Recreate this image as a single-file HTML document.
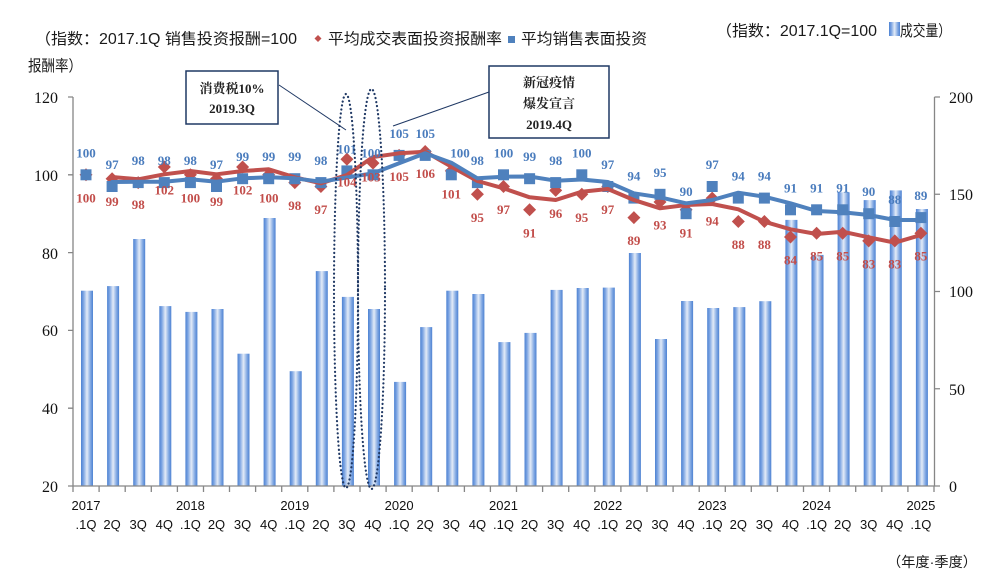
<!DOCTYPE html>
<html><head><meta charset="utf-8"><style>
html,body{margin:0;padding:0;background:#fff;}
svg{display:block;}
.lg{font-family:"Liberation Sans","Noto Sans CJK SC",sans-serif;font-size:15.5px;fill:#1a1a1a;}
.ax{font-family:"Liberation Serif",serif;font-size:16px;fill:#111;}
.xl{font-family:"Liberation Sans",sans-serif;font-size:13px;fill:#111;}
.bl{font-family:"Liberation Serif",serif;font-weight:bold;font-size:13px;fill:#4a7cbd;text-anchor:middle;}
.rl{font-family:"Liberation Serif",serif;font-weight:bold;font-size:13px;fill:#c24d4a;text-anchor:middle;}
.bx{font-family:"Liberation Serif","Noto Serif CJK SC",serif;font-weight:bold;font-size:13px;fill:#222;text-anchor:middle;}
</style></head><body>
<svg width="1006" height="580" viewBox="0 0 1006 580" xmlns="http://www.w3.org/2000/svg">
<defs>
<linearGradient id="bg" x1="0" y1="0" x2="1" y2="0">
<stop offset="0" stop-color="#4d82d2"/>
<stop offset="0.2" stop-color="#7aa3e2"/>
<stop offset="0.5" stop-color="#e3ebf7"/>
<stop offset="0.8" stop-color="#7ea6e2"/>
<stop offset="1" stop-color="#4d82d2"/>
</linearGradient>
<path id="dm" d="M0,-6.5L6.5,0L0,6.5L-6.5,0Z" fill="#c0504d"/>
<rect id="sq" x="-5.5" y="-5.5" width="11" height="11" fill="#4f81bd"/>
</defs>

<!-- legends -->
<text class="lg" x="35" y="44" textLength="262" lengthAdjust="spacingAndGlyphs">（指数：2017.1Q 销售投资报酬=100</text>
<path d="M318,35L321.5,38.5L318,42L314.5,38.5Z" fill="#c0504d"/>
<text class="lg" x="328" y="44" textLength="174" lengthAdjust="spacingAndGlyphs">平均成交表面投资报酬率</text>
<rect x="508" y="36" width="7" height="7" fill="#4f81bd"/>
<text class="lg" x="521" y="44" textLength="126" lengthAdjust="spacingAndGlyphs">平均销售表面投资</text>
<text class="lg" x="28" y="71" textLength="54" lengthAdjust="spacingAndGlyphs">报酬率）</text>
<text class="lg" x="716" y="36" textLength="161" lengthAdjust="spacingAndGlyphs">（指数：2017.1Q=100</text>
<rect x="889" y="22" width="11" height="14" fill="url(#bg)"/>
<text class="lg" x="900" y="36" textLength="51" lengthAdjust="spacingAndGlyphs">成交量）</text>
<text class="lg" x="887" y="567" textLength="90" lengthAdjust="spacingAndGlyphs" style="font-size:14px">（年度·季度）</text>

<!-- bars -->
<g fill="url(#bg)">
<rect x="81.0" y="290.7" width="12" height="195.3"/>
<rect x="107.1" y="286.1" width="12" height="199.9"/>
<rect x="133.2" y="239.0" width="12" height="247.0"/>
<rect x="159.3" y="306.1" width="12" height="179.9"/>
<rect x="185.4" y="311.9" width="12" height="174.1"/>
<rect x="211.5" y="309.0" width="12" height="177.0"/>
<rect x="237.5" y="353.7" width="12" height="132.3"/>
<rect x="263.6" y="218.0" width="12" height="268.0"/>
<rect x="289.7" y="371.2" width="12" height="114.8"/>
<rect x="315.8" y="271.1" width="12" height="214.9"/>
<rect x="341.9" y="296.9" width="12" height="189.1"/>
<rect x="368.0" y="309.0" width="12" height="177.0"/>
<rect x="394.1" y="381.9" width="12" height="104.1"/>
<rect x="420.2" y="327.1" width="12" height="158.9"/>
<rect x="446.3" y="290.7" width="12" height="195.3"/>
<rect x="472.4" y="294.0" width="12" height="192.0"/>
<rect x="498.4" y="342.1" width="12" height="143.9"/>
<rect x="524.5" y="332.9" width="12" height="153.1"/>
<rect x="550.6" y="289.9" width="12" height="196.1"/>
<rect x="576.7" y="288.0" width="12" height="198.0"/>
<rect x="602.8" y="287.6" width="12" height="198.4"/>
<rect x="628.9" y="253.0" width="12" height="233.0"/>
<rect x="655.0" y="339.0" width="12" height="147.0"/>
<rect x="681.1" y="301.0" width="12" height="185.0"/>
<rect x="707.2" y="308.0" width="12" height="178.0"/>
<rect x="733.3" y="307.1" width="12" height="178.9"/>
<rect x="759.3" y="301.2" width="12" height="184.8"/>
<rect x="785.4" y="219.9" width="12" height="266.1"/>
<rect x="811.5" y="254.9" width="12" height="231.1"/>
<rect x="837.6" y="192.3" width="12" height="293.7"/>
<rect x="863.7" y="200.1" width="12" height="285.9"/>
<rect x="889.8" y="190.4" width="12" height="295.6"/>
<rect x="915.9" y="209.0" width="12" height="277.0"/>
</g>

<!-- axes -->
<g stroke="#868686" stroke-width="1.3" fill="none">
<line x1="73" y1="97" x2="73" y2="486"/>
<line x1="934.5" y1="97" x2="934.5" y2="486"/>
<line x1="73" y1="486" x2="934.5" y2="486"/>
<path d="M68,97H73M68,174.8H73M68,252.6H73M68,330.4H73M68,408.2H73M68,486H73"/>
<path d="M934.5,97H940M934.5,194.25H940M934.5,291.5H940M934.5,388.75H940M934.5,486H940"/>
<path d="M73,486V492M99.1,486V492M125.2,486V492M151.3,486V492M177.4,486V492M203.5,486V492M229.5,486V492M255.6,486V492M281.7,486V492M307.8,486V492M333.9,486V492M360,486V492M386.1,486V492M412.2,486V492M438.3,486V492M464.4,486V492M490.4,486V492M516.5,486V492M542.6,486V492M568.7,486V492M594.8,486V492M620.9,486V492M647,486V492M673.1,486V492M699.2,486V492M725.3,486V492M751.3,486V492M777.4,486V492M803.5,486V492M829.6,486V492M855.7,486V492M881.8,486V492M907.9,486V492M934,486V492"/>
</g>
<g class="ax" text-anchor="end">
<text x="58" y="103">120</text><text x="58" y="181">100</text><text x="58" y="259">80</text>
<text x="58" y="336">60</text><text x="58" y="414">40</text><text x="58" y="492">20</text>
</g>
<g class="ax">
<text x="949" y="103">200</text><text x="949" y="200">150</text><text x="949" y="297">100</text>
<text x="949" y="395">50</text><text x="949" y="492">0</text>
</g>
<g class="xl" text-anchor="middle">
<text x="86" y="510">2017</text><text x="190.4" y="510">2018</text><text x="294.8" y="510">2019</text>
<text x="399.1" y="510">2020</text><text x="503.5" y="510">2021</text><text x="607.8" y="510">2022</text>
<text x="712.2" y="510">2023</text><text x="816.6" y="510">2024</text><text x="920.9" y="510">2025</text>
<text x="86" y="529">.1Q</text><text x="112.1" y="529">2Q</text><text x="138.2" y="529">3Q</text><text x="164.3" y="529">4Q</text>
<text x="190.4" y="529">.1Q</text><text x="216.5" y="529">2Q</text><text x="242.6" y="529">3Q</text><text x="268.7" y="529">4Q</text>
<text x="294.8" y="529">.1Q</text><text x="320.9" y="529">2Q</text><text x="346.9" y="529">3Q</text><text x="373" y="529">4Q</text>
<text x="399.1" y="529">.1Q</text><text x="425.2" y="529">2Q</text><text x="451.3" y="529">3Q</text><text x="477.4" y="529">4Q</text>
<text x="503.5" y="529">.1Q</text><text x="529.6" y="529">2Q</text><text x="555.7" y="529">3Q</text><text x="581.8" y="529">4Q</text>
<text x="607.8" y="529">.1Q</text><text x="633.9" y="529">2Q</text><text x="660" y="529">3Q</text><text x="686.1" y="529">4Q</text>
<text x="712.2" y="529">.1Q</text><text x="738.3" y="529">2Q</text><text x="764.4" y="529">3Q</text><text x="790.5" y="529">4Q</text>
<text x="816.6" y="529">.1Q</text><text x="842.7" y="529">2Q</text><text x="868.7" y="529">3Q</text><text x="894.8" y="529">4Q</text>
<text x="920.9" y="529">.1Q</text>
</g>

<!-- red markers -->
<g>
<use href="#dm" x="86" y="174.8"/><use href="#dm" x="112.1" y="178.7"/><use href="#dm" x="138.2" y="182.6"/><use href="#dm" x="164.3" y="167"/>
<use href="#dm" x="190.4" y="174.8"/><use href="#dm" x="216.5" y="178.7"/><use href="#dm" x="242.6" y="167"/><use href="#dm" x="268.7" y="174.8"/>
<use href="#dm" x="294.8" y="182.6"/><use href="#dm" x="320.9" y="186.5"/><use href="#dm" x="346.9" y="159.2"/><use href="#dm" x="373" y="163.1"/>
<use href="#dm" x="399.1" y="155.4"/><use href="#dm" x="425.2" y="151.5"/><use href="#dm" x="451.3" y="170.9"/><use href="#dm" x="477.4" y="194.3"/>
<use href="#dm" x="503.5" y="186.5"/><use href="#dm" x="529.6" y="209.8"/><use href="#dm" x="555.7" y="190.4"/><use href="#dm" x="581.8" y="194.3"/>
<use href="#dm" x="607.8" y="186.5"/><use href="#dm" x="633.9" y="217.6"/><use href="#dm" x="660" y="202"/><use href="#dm" x="686.1" y="209.8"/>
<use href="#dm" x="712.2" y="198.1"/><use href="#dm" x="738.3" y="221.5"/><use href="#dm" x="764.4" y="221.5"/><use href="#dm" x="790.5" y="237"/>
<use href="#dm" x="816.6" y="233.2"/><use href="#dm" x="842.7" y="233.2"/><use href="#dm" x="868.7" y="240.9"/><use href="#dm" x="894.8" y="240.9"/>
<use href="#dm" x="920.9" y="233.2"/>
</g>
<!-- blue markers -->
<g>
<use href="#sq" x="86" y="174.8"/><use href="#sq" x="112.1" y="186.5"/><use href="#sq" x="138.2" y="182.6"/><use href="#sq" x="164.3" y="182.6"/>
<use href="#sq" x="190.4" y="182.6"/><use href="#sq" x="216.5" y="186.5"/><use href="#sq" x="242.6" y="178.7"/><use href="#sq" x="268.7" y="178.7"/>
<use href="#sq" x="294.8" y="178.7"/><use href="#sq" x="320.9" y="182.6"/><use href="#sq" x="346.9" y="170.9"/><use href="#sq" x="373" y="174.8"/>
<use href="#sq" x="399.1" y="155.4"/><use href="#sq" x="425.2" y="155.4"/><use href="#sq" x="451.3" y="174.8"/><use href="#sq" x="477.4" y="182.6"/>
<use href="#sq" x="503.5" y="174.8"/><use href="#sq" x="529.6" y="178.7"/><use href="#sq" x="555.7" y="182.6"/><use href="#sq" x="581.8" y="174.8"/>
<use href="#sq" x="607.8" y="186.5"/><use href="#sq" x="633.9" y="198.1"/><use href="#sq" x="660" y="194.3"/><use href="#sq" x="686.1" y="213.7"/>
<use href="#sq" x="712.2" y="186.5"/><use href="#sq" x="738.3" y="198.1"/><use href="#sq" x="764.4" y="198.1"/><use href="#sq" x="790.5" y="209.8"/>
<use href="#sq" x="816.6" y="209.8"/><use href="#sq" x="842.7" y="209.8"/><use href="#sq" x="868.7" y="213.7"/><use href="#sq" x="894.8" y="221.5"/>
<use href="#sq" x="920.9" y="217.6"/>
</g>

<!-- trend lines -->
<polyline fill="none" stroke="#c0504d" stroke-width="4" stroke-linejoin="round" stroke-linecap="round"
points="112.1,177 138.2,179.3 164.3,174.3 190.4,171 216.5,174.3 242.6,171 268.7,169.3 294.8,177.3 320.9,183.3 346.9,175 373,157 399.1,153.3 425.2,151.7 451.3,166.7 477.4,181 503.5,188.3 529.6,197.3 555.7,200 581.8,191.7 607.8,189 633.9,200 660,208.3 686.1,205 712.2,204 738.3,209.3 764.4,221.7 790.5,229.3 816.6,234 842.7,231.7 868.7,237.3 894.8,242.7 920.9,235"/>
<polyline fill="none" stroke="#4f81bd" stroke-width="4" stroke-linejoin="round" stroke-linecap="round"
points="112.1,182 138.2,181.7 164.3,181.7 190.4,179.3 216.5,181.7 242.6,178.3 268.7,177.3 294.8,178.3 320.9,181.7 346.9,177.5 373,173.3 399.1,163.3 425.2,153.3 451.3,162.7 477.4,178.3 503.5,176.7 529.6,176.5 555.7,180.7 581.8,179.5 607.8,182 633.9,193.3 660,197.3 686.1,203.3 712.2,200 738.3,192.7 764.4,196.7 790.5,203.3 816.6,211 842.7,212.3 868.7,215 894.8,220 920.9,220"/>

<!-- blue labels -->
<g class="bl">
<text x="86" y="157.3">100</text><text x="112.1" y="169">97</text><text x="138.2" y="165.1">98</text><text x="164.3" y="165.1">98</text>
<text x="190.4" y="165.1">98</text><text x="216.5" y="169">97</text><text x="242.6" y="161.2">99</text><text x="268.7" y="161.2">99</text>
<text x="294.8" y="161.2">99</text><text x="320.9" y="165.1">98</text><text x="346.9" y="153.4">101</text><text x="371" y="157.3">100</text>
<text x="399.1" y="137.9">105</text><text x="425.2" y="137.9">105</text><text x="460" y="157.3">100</text><text x="477.4" y="165.1">98</text>
<text x="503.5" y="157.3">100</text><text x="529.6" y="161.2">99</text><text x="555.7" y="165.1">98</text><text x="581.8" y="157.3">100</text>
<text x="607.8" y="169">97</text><text x="633.9" y="180.6">94</text><text x="660" y="176.8">95</text><text x="686.1" y="196.2">90</text>
<text x="712.2" y="169">97</text><text x="738.3" y="180.6">94</text><text x="764.4" y="180.6">94</text><text x="790.5" y="192.3">91</text>
<text x="816.6" y="192.3">91</text><text x="842.7" y="192.3">91</text><text x="868.7" y="196.2">90</text><text x="894.8" y="204">88</text>
<text x="920.9" y="200.1">89</text>
</g>
<!-- red labels -->
<g class="rl">
<text x="86" y="202.3">100</text><text x="112.1" y="206.2">99</text><text x="138.2" y="209">98</text><text x="164.3" y="194.5">102</text>
<text x="190.4" y="202.3">100</text><text x="216.5" y="206.2">99</text><text x="242.6" y="194.5">102</text><text x="268.7" y="202.3">100</text>
<text x="294.8" y="210.1">98</text><text x="320.9" y="214">97</text><text x="346.9" y="186.7">104</text><text x="371" y="181.5">103</text>
<text x="399.1" y="180.9">105</text><text x="425.2" y="178">106</text><text x="451.3" y="198.4">101</text><text x="477.4" y="221.8">95</text>
<text x="503.5" y="214">97</text><text x="529.6" y="237.3">91</text><text x="555.7" y="217.9">96</text><text x="581.8" y="221.8">95</text>
<text x="607.8" y="214">97</text><text x="633.9" y="245.1">89</text><text x="660" y="229.5">93</text><text x="686.1" y="237.3">91</text>
<text x="712.2" y="225.6">94</text><text x="738.3" y="249">88</text><text x="764.4" y="249">88</text><text x="790.5" y="264.5">84</text>
<text x="816.6" y="260.7">85</text><text x="842.7" y="260.7">85</text><text x="868.7" y="268.4">83</text><text x="894.8" y="268.4">83</text>
<text x="920.9" y="260.7">85</text>
</g>

<!-- dotted ellipses -->
<g fill="none" stroke="#1f3864" stroke-width="2.2" stroke-linecap="round" stroke-dasharray="0.1 4">
<ellipse cx="346" cy="291" rx="12" ry="197"/>
<ellipse cx="371.5" cy="289" rx="13.5" ry="200"/>
</g>

<!-- annotations -->
<g stroke="#1f3864" fill="none">
<line x1="279" y1="85" x2="346" y2="130" stroke-width="1"/>
<line x1="489" y1="92" x2="393" y2="126" stroke-width="1"/>
<rect x="186" y="71" width="92" height="53" fill="#fff" stroke-width="1.5"/>
<rect x="489" y="66" width="120" height="72" fill="#fff" stroke-width="1.5"/>
</g>
<text class="bx" x="232" y="93">消费税10%</text>
<text class="bx" x="232" y="113">2019.3Q</text>
<text class="bx" x="549" y="87">新冠疫情</text>
<text class="bx" x="549" y="108">爆发宣言</text>
<text class="bx" x="549" y="129">2019.4Q</text>
</svg>
</body></html>
